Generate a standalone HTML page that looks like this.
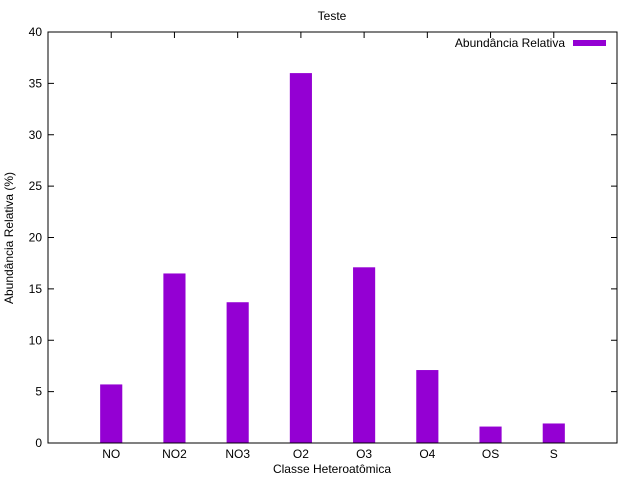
<!DOCTYPE html>
<html><head><meta charset="utf-8"><style>
body{margin:0;background:#fff}
svg text{font-family:"Liberation Sans",sans-serif;font-size:12px;fill:#000}
</style></head><body>
<svg id="chart" width="640" height="480">
<text x="332" y="20" text-anchor="middle">Teste</text>
<text x="332" y="473" text-anchor="middle">Classe Heteroatômica</text>
<text transform="translate(13,238) rotate(-90)" text-anchor="middle">Abundância Relativa (%)</text>
<g id="axes"></g>
<g id="bars"></g>
<rect x="48" y="32" width="569" height="411" fill="none" stroke="#000" stroke-width="1"/>
<g>
<text x="565" y="47" text-anchor="end">Abundância Relativa</text>
<rect x="573" y="40" width="33" height="6" fill="#9400d3"/>
</g>
</svg>
<script>
const categories=["NO","NO2","NO3","O2","O3","O4","OS","S"];
const values=[5.7,16.5,13.7,36.0,17.1,7.1,1.6,1.9];
const yTicks=[0,5,10,15,20,25,30,35,40];
const L=48,R=617,T=32,B=443,yMax=40;
function ys(v){return B-(v/yMax)*(B-T);}
function xs(i){return L+(i+1)*(R-L)/(categories.length+1);}
const ns="http://www.w3.org/2000/svg";
const axes=document.getElementById('axes'),bars=document.getElementById('bars');
function mk(t,a,p){const e=document.createElementNS(ns,t);for(const k in a)e.setAttribute(k,a[k]);p.appendChild(e);return e;}
yTicks.forEach(v=>{
  const y=ys(v);
  const t=mk('line',{x1:L,x2:L+6,y1:y,y2:y,stroke:'#000'},axes);
  
  
  const t2=mk('line',{x1:R-6,x2:R,y1:y,y2:y,stroke:'#000'},axes);
  
  
  const lb=mk('text',{x:L-6,y:y+4,'text-anchor':'end'},axes);
  lb.textContent=v;
  
  
});
const bw=0.35*(R-L)/(categories.length+1);
categories.forEach((c,i)=>{
  const x=xs(i);
  const t=mk('line',{x1:x,x2:x,y1:B,y2:B-6,stroke:'#000'},axes);
  
  
  const t2=mk('line',{x1:x,x2:x,y1:T,y2:T+6,stroke:'#000'},axes);
  
  
  const lb=mk('text',{x:x,y:B+15,'text-anchor':'middle'},axes);
  lb.textContent=c;
  
  
  const b=mk('rect',{x:x-bw/2,y:ys(values[i]),width:bw,height:B-ys(values[i]),fill:'#9400d3'},bars);
  
  
});
</script>
</body></html>
